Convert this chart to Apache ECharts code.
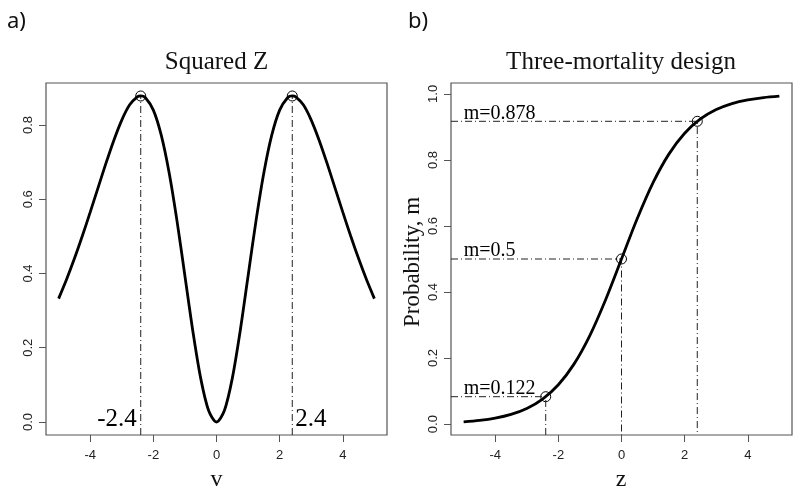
<!DOCTYPE html>
<html>
<head>
<meta charset="utf-8">
<script src="https://cdn.jsdelivr.net/npm/echarts@6/dist/echarts.min.js"></script>
<style>
  html, body { margin: 0; padding: 0; background: #fff; }
  #main { width: 800px; height: 495px; }
</style>
</head>
<body>
<div id="main"></div>
<script>
// panel a) squared Z curve
var vGrid = [-5, -4.75, -4.5, -4.25, -4, -3.75, -3.5, -3.25, -3, -2.75, -2.5, -2.4, -2.25, -2, -1.75, -1.5, -1.25, -1, -0.75, -0.5, -0.25,
  0, 0.25, 0.5, 0.75, 1, 1.25, 1.5, 1.75, 2, 2.25, 2.4, 2.5, 2.75, 3, 3.25, 3.5, 3.75, 4, 4.25, 4.5, 4.75, 5];
var sqZ = [0.3324, 0.3837, 0.4401, 0.5009, 0.5652, 0.6314, 0.6971, 0.7591, 0.8132, 0.8542, 0.8763, 0.8785, 0.8734, 0.8400, 0.7725, 0.6712, 0.5410, 0.3932, 0.2451, 0.1175, 0.0308,
  0, 0.0308, 0.1175, 0.2451, 0.3932, 0.5410, 0.6712, 0.7725, 0.8400, 0.8734, 0.8785, 0.8763, 0.8542, 0.8132, 0.7591, 0.6971, 0.6314, 0.5652, 0.5009, 0.4401, 0.3837, 0.3324];
var peakV = [-2.4, 2.4];
var peakY = [0.878, 0.878];
var peakText = ['-2.4', '2.4'];

// panel b) mortality curve
var zGrid = [-5, -4.5, -4, -3.5, -3, -2.5, -2, -1.5, -1, -0.5, 0, 0.5, 1, 1.5, 2, 2.5, 3, 3.5, 4, 4.5, 5];
var mProb = [0.0067, 0.0110, 0.0180, 0.0293, 0.0474, 0.0759, 0.1192, 0.1824, 0.2689, 0.3775, 0.5,
  0.6225, 0.7311, 0.8176, 0.8808, 0.9241, 0.9526, 0.9707, 0.9820, 0.9890, 0.9933];
var markZ = [-2.4, 0, 2.4];
var markM = [0.083, 0.5, 0.917];
var markText = ['m=0.122', 'm=0.5', 'm=0.878'];

// tick labels
var xTicks = [-4, -2, 0, 2, 4];
var yTicksA = [0, 0.2, 0.4, 0.6, 0.8];
var yTicksB = [0, 0.2, 0.4, 0.6, 0.8, 1.0];

var serif = '"Liberation Serif", "Times New Roman", serif';
var sans = '"Liberation Sans", Arial, sans-serif';
var dashDot = [7, 3, 1, 3];

var chart = echarts.init(document.getElementById('main'));

function pairs(xs, ys) {
  var out = [];
  for (var i = 0; i < xs.length; i++) out.push([xs[i], ys[i]]);
  return out;
}

function xAxisFor(gi) {
  return {
    gridIndex: gi, type: 'value', min: -5.4, max: 5.4, position: 'bottom',
    splitLine: {show: false},
    axisLine: {show: false, onZero: false},
    axisTick: {show: true, customValues: xTicks, length: 7, lineStyle: {color: '#555'}},
    axisLabel: {customValues: xTicks, margin: 14, color: '#222', fontFamily: sans, fontSize: 13}
  };
}

function yAxisFor(gi, lo, hi, ticks) {
  return {
    gridIndex: gi, type: 'value', min: lo, max: hi, position: 'left',
    splitLine: {show: false},
    axisLine: {show: false, onZero: false},
    axisTick: {show: true, customValues: ticks, length: 7, lineStyle: {color: '#555'}},
    axisLabel: {
      customValues: ticks, rotate: 90, margin: 11, color: '#222', fontFamily: sans, fontSize: 13,
      formatter: function (v) { return v.toFixed(1); }
    }
  };
}

var yMinA = -0.035, yMinB = -0.033, xMin = -5.4;

var series = [];
// dash-dot guides, panel a
for (var i = 0; i < peakV.length; i++) {
  series.push({
    type: 'line', xAxisIndex: 0, yAxisIndex: 0, symbol: 'none', silent: true,
    data: [[peakV[i], yMinA], [peakV[i], peakY[i]]],
    lineStyle: {color: '#222', width: 1, type: dashDot}
  });
}
// dash-dot guides, panel b
for (var j = 0; j < markZ.length; j++) {
  series.push({
    type: 'line', xAxisIndex: 1, yAxisIndex: 1, symbol: 'none', silent: true,
    data: [[xMin, markM[j]], [markZ[j], markM[j]], [markZ[j], yMinB]],
    lineStyle: {color: '#222', width: 1, type: dashDot}
  });
}
series.push({
  type: 'line', xAxisIndex: 0, yAxisIndex: 0, smooth: 0.3, showSymbol: false,
  data: pairs(vGrid, sqZ), lineStyle: {color: '#000', width: 2.8}
});
series.push({
  type: 'line', xAxisIndex: 1, yAxisIndex: 1, smooth: 0.3, showSymbol: false,
  data: pairs(zGrid, mProb), lineStyle: {color: '#000', width: 2.8}
});
series.push({
  type: 'scatter', xAxisIndex: 0, yAxisIndex: 0, symbolSize: 10,
  data: pairs(peakV, peakY),
  itemStyle: {color: 'rgba(0,0,0,0)', borderColor: '#000', borderWidth: 1, opacity: 1}
});
series.push({
  type: 'scatter', xAxisIndex: 1, yAxisIndex: 1, symbolSize: 10,
  data: pairs(markZ, markM),
  itemStyle: {color: 'rgba(0,0,0,0)', borderColor: '#000', borderWidth: 1, opacity: 1}
});
// text at the foot of the peak guides
series.push({
  type: 'scatter', xAxisIndex: 0, yAxisIndex: 0, symbolSize: 0, silent: true,
  itemStyle: {opacity: 1},
  data: peakV.map(function (v, k) {
    return {
      value: [v, 0.007],
      label: {
        show: true, formatter: peakText[k], position: v < 0 ? 'left' : 'right', distance: v < 0 ? 4 : 3,
        fontFamily: serif, fontSize: 25, color: '#000'
      }
    };
  })
});
// m= labels
series.push({
  type: 'scatter', xAxisIndex: 1, yAxisIndex: 1, symbolSize: 0, silent: true,
  itemStyle: {opacity: 1},
  data: markM.map(function (m, k) {
    return {
      value: [-5, m],
      label: {
        show: true, formatter: markText[k], position: [0, 2], align: 'left', verticalAlign: 'bottom',
        fontFamily: serif, fontSize: 20, color: '#000'
      }
    };
  })
});

var option = {
  animation: false,
  backgroundColor: '#fff',
  grid: [
    {left: 46, top: 83, width: 341, height: 352, show: true, borderColor: '#555', borderWidth: 1.2},
    {left: 451, top: 83, width: 341, height: 352, show: true, borderColor: '#555', borderWidth: 1.2}
  ],
  xAxis: [xAxisFor(0), xAxisFor(1)],
  yAxis: [yAxisFor(0, yMinA, 0.913, yTicksA), yAxisFor(1, yMinB, 1.033, yTicksB)],
  series: series,
  graphic: [
    {type: 'text', x: 7, y: 22, style: {text: 'a)', font: '22px "Noto Sans", sans-serif', fill: '#111', verticalAlign: 'middle'}},
    {type: 'text', x: 408, y: 22, style: {text: 'b)', font: '22px "Noto Sans", sans-serif', fill: '#111', verticalAlign: 'middle'}},
    {type: 'text', x: 216.5, y: 62, style: {text: 'Squared Z', font: '25px ' + serif, fill: '#111', align: 'center', verticalAlign: 'middle'}},
    {type: 'text', x: 621, y: 62, style: {text: 'Three-mortality design', font: '25px ' + serif, fill: '#111', align: 'center', verticalAlign: 'middle'}},
    {type: 'text', x: 216.5, y: 480, style: {text: 'v', font: '24px ' + serif, fill: '#111', align: 'center', verticalAlign: 'middle'}},
    {type: 'text', x: 621, y: 480, style: {text: 'z', font: '24px ' + serif, fill: '#111', align: 'center', verticalAlign: 'middle'}},
    {type: 'text', x: 413, y: 262, rotation: Math.PI / 2, style: {text: 'Probability, m', font: '23px ' + serif, fill: '#111', align: 'center', verticalAlign: 'middle'}}
  ]
};
chart.setOption(option);
</script>
</body>
</html>
